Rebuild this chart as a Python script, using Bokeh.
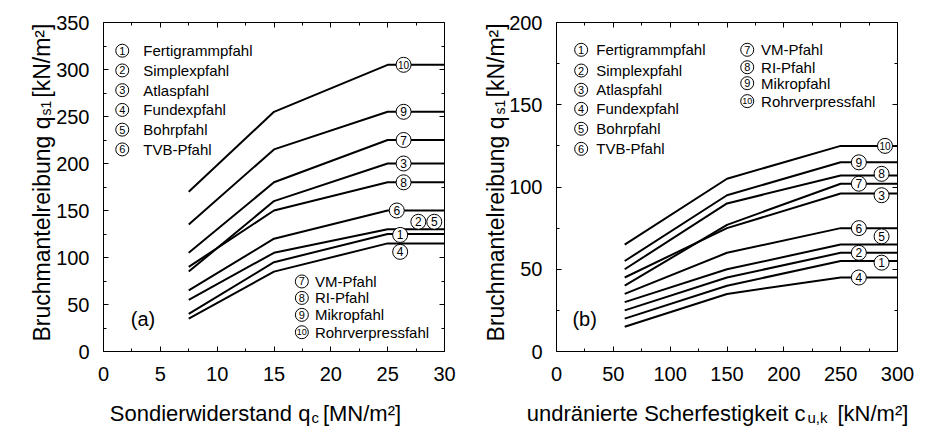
import numpy as np
from bokeh.plotting import figure
from bokeh.layouts import row
from bokeh.models import Range1d, LinearAxis, FixedTicker, ColumnDataSource
from bokeh.core.properties import value
from bokeh.embed import file_html
from bokeh.resources import INLINE

FONT = "Liberation Sans"

# ---------------- data, panel (a): Sondierwiderstand q_c [MN/m2] ----------------
a_x = [7.5, 15, 25, 30]
a_p10 = [170, 255, 305, 305]
a_p9 = [135, 215, 255, 255]
a_p7 = [105, 180, 225, 225]
a_p3 = [85, 160, 200, 200]
a_p8 = [90, 150, 180, 180]
a_p6 = [65, 120, 150, 150]
a_p25 = [55, 105, 130, 130]
a_p1 = [40, 95, 125, 125]
a_p4 = [35, 85, 115, 115]
a_xticks = [0, 5, 10, 15, 20, 25, 30]
a_xminor = [2.5, 7.5, 12.5, 17.5, 22.5, 27.5]
a_yticks = [0, 50, 100, 150, 200, 250, 300, 350]
a_yminor = [25, 75, 125, 175, 225, 275, 325]

# ---------------- data, panel (b): undrainierte Scherfestigkeit c_u,k [kN/m2] ----------------
b_x = [60, 150, 250, 300]
b_p10 = [65, 105, 125, 125]
b_p9 = [55, 95, 115, 115]
b_p8 = [50, 90, 107, 107]
b_p7 = [40, 77, 102, 102]
b_p3 = [45, 75, 96, 96]
b_p6 = [35, 60, 75, 75]
b_p5 = [30, 50, 65, 65]
b_p2 = [25, 45, 60, 60]
b_p1 = [20, 40, 55, 55]
b_p4 = [15, 35, 45, 45]
b_xticks = [0, 50, 100, 150, 200, 250, 300]
b_xminor = [25, 75, 125, 175, 225, 275]
b_yticks = [0, 50, 100, 150, 200]
b_yminor = [25, 75, 125, 175]

names_1_6 = ["Fertigrammpfahl", "Simplexpfahl", "Atlaspfahl", "Fundexpfahl", "Bohrpfahl", "TVB-Pfahl"]
names_7_10 = ["VM-Pfahl", "RI-Pfahl", "Mikropfahl", "Rohrverpressfahl"]
nums_1_6 = [1, 2, 3, 4, 5, 6]
nums_7_10 = [7, 8, 9, 10]

# label positions on the curves (data coordinates)
a_lab_num = [10, 9, 7, 3, 8, 6, 2, 5, 1, 4]
a_lab_x = [26.4, 26.4, 26.4, 26.4, 26.4, 25.8, 27.7, 29.1, 26.1, 26.1]
a_lab_y = [305, 255, 225, 200, 180, 150, 138, 138, 124, 106]
b_lab_num = [10, 9, 8, 7, 3, 6, 5, 2, 1, 4]
b_lab_x = [289, 266, 286, 266, 286, 266, 286, 266, 286, 266]
b_lab_y = [125, 115, 108, 102, 95, 75, 70, 60, 54, 45]


def circled(p, xs, ys, nums, size, fs):
    src = ColumnDataSource(dict(
        x=xs, y=ys, t=[str(n) for n in nums],
        fs=[(f"{fs - 2}px" if n >= 10 else f"{fs}px") for n in nums]))
    p.scatter("x", "y", source=src, size=size, marker="circle",
              fill_color="white", line_color="black", line_width=1)
    p.text("x", "y", text="t", source=src, text_align="center",
           text_baseline="middle", text_font=value(FONT),
           text_font_size="fs", text_color="black")


def legend(p, cx, tx, ys, nums, names):
    circled(p, [cx] * len(ys), ys, nums, 13, 11)
    p.text([tx] * len(ys), ys, text=names, text_align="left",
           text_baseline="middle", text_font=value(FONT),
           text_font_size="15px", text_color="black")


def txt(p, x, y, s, size, align="left", angle=0.0, baseline="alphabetic"):
    p.text([x], [y], text=[s], text_font=value(FONT), text_font_size=size,
           text_align=align, text_baseline=baseline, angle=angle, text_color="black")


def make_axes(p, xmax, ymax, xticks, xminor, yticks, yminor):
    xt = FixedTicker(ticks=xticks, minor_ticks=xminor)
    yt = FixedTicker(ticks=yticks, minor_ticks=yminor)
    bottom = LinearAxis(ticker=xt, fixed_location=0, bounds=(0, xmax))
    top = LinearAxis(ticker=xt, fixed_location=ymax, bounds=(0, xmax),
                     major_label_overrides={t: "" for t in xticks})
    left = LinearAxis(ticker=yt, fixed_location=0, bounds=(0, ymax))
    right = LinearAxis(ticker=yt, fixed_location=xmax, bounds=(0, ymax),
                       major_label_overrides={t: "" for t in yticks})
    p.add_layout(bottom, "below")
    p.add_layout(top, "above")
    p.add_layout(left, "left")
    p.add_layout(right, "right")
    for ax in [bottom, top, left, right]:
        ax.major_tick_in = 5
        ax.major_tick_out = 0
        ax.minor_tick_in = 3
        ax.minor_tick_out = 0
        ax.axis_line_color = "black"
        ax.axis_line_width = 1
        ax.major_tick_line_color = "black"
        ax.minor_tick_line_color = "black"
        ax.major_label_text_font = FONT
        ax.major_label_text_color = "black"
        ax.major_label_text_font_size = "20px"
    bottom.major_label_standoff = 15
    left.major_label_standoff = 14


W, H = 464, 429

# ====================== panel (a) ======================
# frame: x 0..30 -> canvas px 103..444, y 0..350 -> canvas px 351..22 (from top)
ax_s, ay_s = 341 / 30, 329 / 350
pa = figure(width=W, height=H,
            x_range=Range1d(-103 / ax_s, 30 + (W - 444) / ax_s),
            y_range=Range1d(-(H - 351) / ay_s, 350 + 22 / ay_s),
            x_axis_type=None, y_axis_type=None, min_border=0,
            outline_line_color=None, output_backend="svg", toolbar_location=None)
make_axes(pa, 30, 350, a_xticks, a_xminor, a_yticks, a_yminor)
for ys in [a_p10, a_p9, a_p7, a_p3, a_p8, a_p6, a_p25, a_p1, a_p4]:
    pa.line(a_x, ys, line_color="black", line_width=2)
circled(pa, a_lab_x, a_lab_y, a_lab_num, 15, 12)
legend(pa, 1.65, 3.5, [320, 299, 278, 257, 236, 215], nums_1_6, names_1_6)
legend(pa, 17.45, 18.6, [74.5, 57.0, 39.0, 20.5], nums_7_10, names_7_10)
txt(pa, 2.4, 35, "(a)", "20px", baseline="middle")
# x title
txt(pa, 18.2, -66.0, "Sondierwiderstand q", "22px", align="right")
txt(pa, 18.3, -70.2, "c", "15px")
txt(pa, 19.3, -66.0, "[MN/m²]", "22px")
# y title
txt(pa, -5.45, 250.0, "Bruchmantelreibung q", "23px", align="right", angle=np.pi / 2)
txt(pa, -5.1, 251.0, "s1", "14px", angle=np.pi / 2)
txt(pa, -5.45, 270.0, "[kN/m²]", "23px", angle=np.pi / 2)

# ====================== panel (b) ======================
# frame: x 0..300 -> canvas px 92..433, y 0..200 -> canvas px 351..22 (from top)
bx_s, by_s = 341 / 300, 329 / 200
pb = figure(width=W, height=H,
            x_range=Range1d(-92 / bx_s, 300 + (W - 433) / bx_s),
            y_range=Range1d(-(H - 351) / by_s, 200 + 22 / by_s),
            x_axis_type=None, y_axis_type=None, min_border=0,
            outline_line_color=None, output_backend="svg", toolbar_location=None)
make_axes(pb, 300, 200, b_xticks, b_xminor, b_yticks, b_yminor)
for ys in [b_p10, b_p9, b_p8, b_p7, b_p3, b_p6, b_p5, b_p2, b_p1, b_p4]:
    pb.line(b_x, ys, line_color="black", line_width=2)
circled(pb, b_lab_x, b_lab_y, b_lab_num, 15, 12)
legend(pb, 21.7, 35.0, [183.4, 170.8, 159.1, 147.5, 135.4, 123.2], nums_1_6, names_1_6)
legend(pb, 167.8, 180.0, [183.4, 172.8, 163.1, 152.2], nums_7_10, names_7_10)
txt(pb, 14.0, 19.5, "(b)", "20px", baseline="middle")
# x title
txt(pb, 219.1, -37.7, "undränierte Scherfestigkeit c", "22px", align="right")
txt(pb, 220.8, -40.1, "u,k", "15px")
txt(pb, 247.2, -37.7, "[kN/m²]", "22px")
# y title
txt(pb, -52.8, 142.9, "Bruchmantelreibung q", "23px", align="right", angle=np.pi / 2)
txt(pb, -49.3, 144.0, "s1", "14px", angle=np.pi / 2)
txt(pb, -52.8, 154.4, "[kN/m²]", "23px", angle=np.pi / 2)

layout = row(pa, pb)
open("out.html", "w").write(file_html(layout, INLINE))
